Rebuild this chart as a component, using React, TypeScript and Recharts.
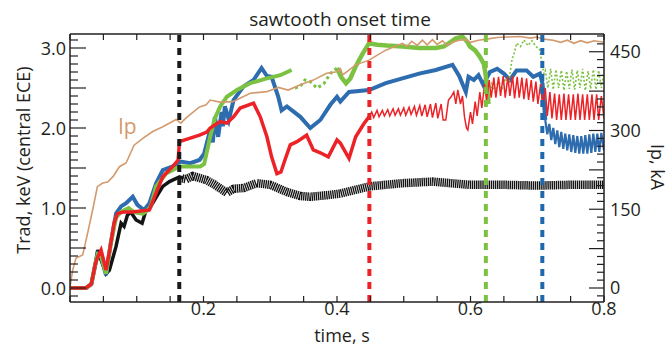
import React from 'react';
import { LineChart, Line, XAxis, YAxis, ReferenceLine } from 'recharts';

type P = [number, number];

// ---------- data (time s, value) ----------
const ipKA: P[] = [
  [0, 2], [0.004, 34], [0.009, 57], [0.019, 63], [0.0265, 105], [0.034, 149], [0.041, 193],
  [0.049, 200], [0.0565, 202], [0.065, 213], [0.074, 231], [0.084, 238], [0.096, 272],
  [0.109, 285], [0.124, 298], [0.139, 307], [0.159, 321], [0.166, 314], [0.174, 324],
  [0.194, 345], [0.204, 349], [0.21, 358], [0.225, 354], [0.244, 355], [0.27, 371],
  [0.295, 374], [0.312, 382], [0.327, 377], [0.345, 387], [0.3645, 396], [0.3845, 409],
  [0.4, 412], [0.405, 418], [0.4085, 406], [0.428, 425], [0.448, 434], [0.473, 453],
  [0.498, 466], [0.505, 460], [0.512, 470], [0.52, 462], [0.528, 472], [0.535, 463],
  [0.543, 473], [0.55, 464], [0.558, 471], [0.565, 462], [0.573, 468], [0.583, 472],
  [0.593, 473], [0.6, 468], [0.612, 472], [0.624, 474], [0.64, 477], [0.655, 478],
  [0.674, 479], [0.69, 476], [0.699, 478], [0.71, 474], [0.724, 472], [0.735, 468],
  [0.745, 472], [0.755, 466], [0.765, 471], [0.775, 467], [0.785, 471], [0.8, 468],
];

const blackEarly: P[] = [
  [0, 0], [0.024, 0], [0.032, 0.05], [0.038, 0.3], [0.0415, 0.475], [0.0465, 0.35],
  [0.054, 0.18], [0.059, 0.225], [0.069, 0.52], [0.0765, 0.81], [0.081, 0.77], [0.086, 0.91],
  [0.091, 0.95], [0.099, 0.85], [0.108, 0.81], [0.114, 0.975], [0.121, 1.02], [0.131, 1.16],
  [0.139, 1.27], [0.149, 1.33], [0.164, 1.39], [0.17, 1.37],
];
const blackLate: P[] = [
  [0.168, 1.37], [0.174, 1.36], [0.184, 1.4], [0.204, 1.35], [0.215, 1.3], [0.235, 1.19],
  [0.245, 1.24], [0.26, 1.25], [0.28, 1.31], [0.3, 1.29], [0.325, 1.2], [0.345, 1.15],
  [0.36, 1.14], [0.385, 1.16], [0.405, 1.18], [0.448, 1.27], [0.498, 1.31], [0.543, 1.33],
  [0.598, 1.29], [0.65, 1.29], [0.7, 1.28], [0.75, 1.29], [0.8, 1.29],
];

const blueMain: P[] = [
  [0, 0], [0.024, 0], [0.032, 0.05], [0.038, 0.3], [0.0415, 0.43], [0.0465, 0.4],
  [0.054, 0.16], [0.061, 0.56], [0.069, 0.93], [0.0765, 1.02], [0.084, 1.06], [0.094, 1.14],
  [0.101, 1.04], [0.111, 0.975], [0.119, 1.06], [0.129, 1.31], [0.139, 1.475], [0.154, 1.52],
  [0.166, 1.58], [0.18, 1.56], [0.194, 1.6], [0.201, 1.68], [0.21, 1.975], [0.214, 1.82],
  [0.217, 2.14], [0.222, 1.89], [0.227, 2.2], [0.229, 2.02], [0.232, 2.27], [0.238, 2.1],
  [0.245, 2.35], [0.26, 2.52], [0.275, 2.6], [0.287, 2.75], [0.295, 2.65], [0.302, 2.64],
  [0.312, 2.39], [0.317, 2.22], [0.325, 2.27], [0.345, 2.14], [0.36, 2.0], [0.375, 2.1],
  [0.39, 2.29], [0.4, 2.39], [0.405, 2.33], [0.418, 2.45], [0.448, 2.475], [0.473, 2.56],
  [0.498, 2.62], [0.523, 2.68], [0.548, 2.725], [0.573, 2.79], [0.583, 2.65], [0.593, 2.45],
  [0.597, 2.64], [0.605, 2.6], [0.612, 2.66], [0.619, 2.54], [0.629, 2.7], [0.64, 2.74],
  [0.65, 2.68], [0.659, 2.6], [0.669, 2.72], [0.684, 2.72], [0.694, 2.64], [0.704, 2.68],
  [0.708, 2.55], [0.712, 2.1],
];
const blueLate: P[] = [
  [0.712, 2.1], [0.715, 1.92], [0.718, 2.05], [0.721, 1.85], [0.724, 2.0], [0.727, 1.8],
  [0.73, 1.97], [0.733, 1.76], [0.736, 1.95], [0.739, 1.74], [0.742, 1.93], [0.745, 1.72],
  [0.748, 1.92], [0.751, 1.7], [0.754, 1.91], [0.757, 1.69], [0.76, 1.9], [0.763, 1.68],
  [0.766, 1.9], [0.769, 1.68], [0.772, 1.91], [0.775, 1.68], [0.778, 1.92], [0.781, 1.69],
  [0.784, 1.93], [0.787, 1.7], [0.79, 1.93], [0.793, 1.7], [0.796, 1.94], [0.8, 1.72],
];

const greenA: P[] = [
  [0, 0], [0.024, 0], [0.032, 0.05], [0.038, 0.3], [0.0415, 0.42], [0.0465, 0.4],
  [0.054, 0.18], [0.061, 0.55], [0.069, 0.88], [0.076, 0.95], [0.081, 0.97], [0.088, 1.0],
  [0.094, 0.96], [0.101, 0.94], [0.109, 0.93], [0.116, 0.97], [0.121, 1.02], [0.129, 1.27],
  [0.144, 1.43], [0.164, 1.52], [0.18, 1.52], [0.195, 1.52], [0.201, 1.55], [0.21, 1.89],
  [0.217, 2.12], [0.225, 2.27], [0.235, 2.39], [0.25, 2.475], [0.27, 2.56], [0.295, 2.62],
  [0.315, 2.66], [0.332, 2.725],
];
const greenB: P[] = [
  [0.337, 2.5], [0.345, 2.52], [0.352, 2.6], [0.36, 2.58], [0.37, 2.5], [0.38, 2.55],
  [0.39, 2.68], [0.4, 2.75],
];
const greenC: P[] = [
  [0.4, 2.75], [0.406, 2.64], [0.4135, 2.56], [0.42, 2.62], [0.428, 2.77], [0.4385, 2.93],
  [0.448, 3.06], [0.46, 3.04], [0.475, 3.03], [0.498, 3.02], [0.523, 3.0], [0.548, 3.0],
  [0.56, 3.02], [0.568, 3.06], [0.578, 3.12], [0.588, 3.14], [0.595, 3.08], [0.599, 3.02],
  [0.607, 2.97], [0.614, 2.89], [0.62, 2.8], [0.623, 2.65], [0.627, 2.3],
];
const greenD: P[] = [
  [0.627, 2.3], [0.632, 2.55], [0.637, 2.45], [0.642, 2.6], [0.647, 2.48], [0.652, 2.62],
  [0.657, 2.55], [0.662, 2.85], [0.666, 2.95], [0.669, 3.06], [0.675, 3.02], [0.68, 3.1],
  [0.686, 3.03], [0.692, 3.09], [0.698, 3.02], [0.704, 2.975], [0.707, 2.8], [0.71, 2.68],
  [0.712, 2.72], [0.716, 2.5], [0.72, 2.74], [0.724, 2.48], [0.728, 2.73], [0.732, 2.5],
  [0.736, 2.72], [0.74, 2.47], [0.744, 2.71], [0.748, 2.49], [0.752, 2.73], [0.756, 2.48],
  [0.76, 2.72], [0.764, 2.5], [0.768, 2.74], [0.772, 2.47], [0.776, 2.71], [0.78, 2.49],
  [0.784, 2.73], [0.788, 2.48], [0.792, 2.72], [0.796, 2.5], [0.8, 2.7],
];

const redA: P[] = [
  [0, 0], [0.024, 0], [0.032, 0.05], [0.038, 0.3], [0.0415, 0.39], [0.0465, 0.475],
  [0.054, 0.225], [0.06, 0.5], [0.066, 0.81], [0.071, 0.93], [0.08, 0.95], [0.094, 0.95],
  [0.119, 0.975], [0.129, 1.19], [0.139, 1.39], [0.154, 1.52], [0.162, 1.6], [0.164, 1.83],
  [0.179, 1.87], [0.194, 1.91], [0.205, 1.95], [0.21, 2.0], [0.225, 2.08], [0.235, 2.06],
  [0.245, 2.14], [0.255, 2.25], [0.275, 2.31], [0.285, 2.14], [0.295, 1.89], [0.302, 1.64],
  [0.31, 1.43], [0.316, 1.45], [0.322, 1.6], [0.33, 1.79], [0.34, 1.83], [0.3545, 1.91],
  [0.3645, 1.725], [0.375, 1.69], [0.387, 1.64], [0.4, 1.85], [0.405, 1.81], [0.418, 1.62],
  [0.428, 1.89], [0.44, 2.05], [0.448, 2.14],
];
const redB: P[] = [
  [0.448, 2.14], [0.452, 2.2], [0.455, 2.13], [0.46, 2.22], [0.463, 2.14], [0.468, 2.22],
  [0.471, 2.15], [0.476, 2.23], [0.479, 2.15], [0.484, 2.24], [0.487, 2.16], [0.492, 2.24],
  [0.495, 2.16], [0.5, 2.25], [0.503, 2.16], [0.508, 2.26], [0.511, 2.17], [0.516, 2.27],
  [0.519, 2.16], [0.524, 2.28], [0.527, 2.15], [0.532, 2.29], [0.535, 2.14], [0.54, 2.3],
  [0.543, 2.13], [0.548, 2.31], [0.551, 2.12], [0.556, 2.3], [0.559, 2.1], [0.563, 2.1],
  [0.567, 2.35], [0.571, 2.39], [0.575, 2.45], [0.578, 2.3], [0.581, 2.475], [0.585, 2.3],
  [0.588, 2.4], [0.591, 2.14], [0.594, 2.0], [0.596, 1.975], [0.6, 2.2], [0.603, 2.05],
  [0.607, 2.33], [0.61, 2.15], [0.614, 2.45], [0.617, 2.25], [0.621, 2.55], [0.624, 2.35],
  [0.628, 2.6], [0.631, 2.38], [0.635, 2.63], [0.638, 2.38], [0.642, 2.64], [0.645, 2.4],
  [0.649, 2.65], [0.652, 2.38], [0.656, 2.64], [0.659, 2.4], [0.663, 2.65], [0.666, 2.37],
  [0.67, 2.64], [0.673, 2.38], [0.677, 2.63], [0.68, 2.36], [0.684, 2.62], [0.687, 2.35],
  [0.691, 2.6], [0.694, 2.33], [0.698, 2.58], [0.701, 2.3], [0.705, 2.55], [0.708, 2.28],
  [0.712, 2.5], [0.715, 2.15], [0.719, 2.45], [0.722, 2.12], [0.726, 2.43], [0.729, 2.1],
  [0.733, 2.42], [0.736, 2.1], [0.74, 2.43], [0.743, 2.1], [0.747, 2.42], [0.75, 2.1],
  [0.754, 2.42], [0.757, 2.1], [0.761, 2.43], [0.764, 2.1], [0.768, 2.42], [0.771, 2.1],
  [0.775, 2.42], [0.778, 2.1], [0.782, 2.42], [0.785, 2.1], [0.789, 2.42], [0.792, 2.1],
  [0.796, 2.4], [0.8, 2.12],
];

// sawtooth onset times (s)
const onsetTimes = [0.1637, 0.4485, 0.623, 0.7076];
const onsetColors = ['#1a1a1a', '#ec2227', '#7cc242', '#1f68ad'];

// ticks
const xTicks = [0, 0.05, 0.1, 0.15, 0.2, 0.25, 0.3, 0.35, 0.4, 0.45, 0.5, 0.55, 0.6, 0.65, 0.7, 0.75, 0.8];
const xLabelled = [0.2, 0.4, 0.6, 0.8];
const leftTicks = [
  -0.1, 0, 0.1, 0.2, 0.3, 0.4, 0.5, 0.6, 0.7, 0.8, 0.9, 1.0, 1.1, 1.2, 1.3, 1.4, 1.5, 1.6,
  1.7, 1.8, 1.9, 2.0, 2.1, 2.2, 2.3, 2.4, 2.5, 2.6, 2.7, 2.8, 2.9, 3.0, 3.1,
];
const leftLabelled = [0, 1, 2, 3];
const rightTicks = [
  -15, 0, 15, 30, 45, 60, 75, 90, 105, 120, 135, 150, 165, 180, 195, 210, 225, 240, 255,
  270, 285, 300, 315, 330, 345, 360, 375, 390, 405, 420, 435, 450, 465, 480,
];
const rightLabelled = [0, 150, 300, 450];

// ---------- styling ----------
const FONT = '"Open Sans", "DejaVu Sans", sans-serif';
const INK = '#231f20';
const C_BLACK = '#141414';
const C_BLUE = '#2e6cb0';
const C_GREEN = '#7cc242';
const C_RED = '#ec2227';
const C_TAN = '#d39a6d';

const near = (a: number, b: number) => Math.abs(a - b) < 1e-6;
const pts = (a: P[]) => a.map(([t, v]) => ({ t, v }));

const BottomTick = (p: any) => {
  const { x, y, payload } = p;
  const v = payload.value as number;
  const lab = xLabelled.some((m) => near(m, v)) ? v.toFixed(1) : null;
  return (
    <g>
      <line x1={x} x2={x} y1={y} y2={y - 6} stroke={INK} strokeWidth={1.2} />
      {lab && (
        <text x={x} y={y + 13} textAnchor="middle" fontSize={18} fontFamily={FONT} fill={INK}>
          {lab}
        </text>
      )}
    </g>
  );
};

const TopTick = (p: any) => {
  const { x, y } = p;
  return <line x1={x} x2={x} y1={y} y2={y + 6} stroke={INK} strokeWidth={1.2} />;
};

const LeftTick = (p: any) => {
  const { x, y, payload } = p;
  const v = payload.value as number;
  const major = Math.abs(v * 2 - Math.round(v * 2)) < 1e-6;
  const lab = leftLabelled.some((m) => near(m, v)) ? v.toFixed(1) : null;
  return (
    <g>
      <line x1={x} x2={x + (major ? 16 : 8)} y1={y} y2={y} stroke={INK} strokeWidth={1.2} />
      {lab && (
        <text x={x - 4} y={y + 6.5} textAnchor="end" fontSize={18} fontFamily={FONT} fill={INK}>
          {lab}
        </text>
      )}
    </g>
  );
};

const RightTick = (p: any) => {
  const { x, y, payload } = p;
  const v = payload.value as number;
  const major = v % 75 === 0;
  const lab = rightLabelled.includes(v) ? String(v) : null;
  return (
    <g>
      <line x1={x} x2={x - (major ? 15 : 7)} y1={y} y2={y} stroke={INK} strokeWidth={1.2} />
      {lab && (
        <text x={x + 6} y={y + 6.5} textAnchor="start" fontSize={18} fontFamily={FONT} fill={INK}>
          {lab}
        </text>
      )}
    </g>
  );
};

const axisLine = { stroke: INK, strokeWidth: 1.5 };

export default function App() {
  const common = {
    xAxisId: 'b',
    dataKey: 'v',
    dot: false,
    activeDot: false,
    isAnimationActive: false,
    type: 'linear' as const,
  };
  return (
    <div style={{ position: 'absolute', left: 0, top: 0, width: 670, height: 349, background: '#fff' }}>
      <LineChart
        width={670}
        height={349}
        margin={{ top: 33, right: 65, bottom: 46, left: 69 }}
      >
        <XAxis
          xAxisId="b"
          dataKey="t"
          type="number"
          domain={[0, 0.8]}
          ticks={xTicks}
          interval={0}
          allowDataOverflow
          height={1}
          tickSize={0}
          tickMargin={0}
          tick={<BottomTick />}
          tickLine={false}
          axisLine={axisLine}
        />
        <XAxis
          xAxisId="t"
          orientation="top"
          dataKey="t"
          type="number"
          domain={[0, 0.8]}
          ticks={xTicks}
          interval={0}
          allowDataOverflow
          height={1}
          tickSize={0}
          tickMargin={0}
          tick={<TopTick />}
          tickLine={false}
          axisLine={axisLine}
        />
        <YAxis
          yAxisId="left"
          type="number"
          domain={[-0.175, 3.175]}
          ticks={leftTicks}
          interval={0}
          allowDataOverflow
          width={1}
          tickSize={0}
          tickMargin={0}
          tick={<LeftTick />}
          tickLine={false}
          axisLine={axisLine}
        />
        <YAxis
          yAxisId="right"
          orientation="right"
          type="number"
          domain={[-26.67, 483.8]}
          ticks={rightTicks}
          interval={0}
          allowDataOverflow
          width={1}
          tickSize={0}
          tickMargin={0}
          tick={<RightTick />}
          tickLine={false}
          axisLine={axisLine}
        />

        <Line {...common} yAxisId="left" data={pts(blackEarly)} stroke={C_BLACK} strokeWidth={3.5} />
        <Line {...common} yAxisId="left" data={pts(blackLate)} stroke={C_BLACK} strokeWidth={8.5} strokeDasharray="1.4 0.7" />

        <Line {...common} yAxisId="left" data={pts(blueMain)} stroke={C_BLUE} strokeWidth={4} />
        <Line {...common} yAxisId="left" data={pts(blueLate)} stroke={C_BLUE} strokeWidth={2.2} />

        <Line {...common} yAxisId="left" data={pts(greenA)} stroke={C_GREEN} strokeWidth={4} />
        <Line {...common} yAxisId="left" data={pts(greenB)} stroke={C_GREEN} strokeWidth={3} strokeDasharray="3 3" />
        <Line {...common} yAxisId="left" data={pts(greenC)} stroke={C_GREEN} strokeWidth={4.5} />
        <Line {...common} yAxisId="left" data={pts(greenD)} stroke={C_GREEN} strokeWidth={1.6} strokeDasharray="2 2" />

        <Line {...common} yAxisId="left" data={pts(redA)} stroke={C_RED} strokeWidth={3.5} />
        <Line {...common} yAxisId="left" data={pts(redB)} stroke={C_RED} strokeWidth={1.5} />

        <Line {...common} yAxisId="right" data={pts(ipKA)} stroke={C_TAN} strokeWidth={1.6} />

        {onsetTimes.map((t, i) => (
          <ReferenceLine
            key={i}
            xAxisId="b"
            yAxisId="left"
            x={t}
            stroke={onsetColors[i]}
            strokeWidth={4}
            strokeDasharray="7 6"
          />
        ))}
      </LineChart>

      <svg
        width={670}
        height={349}
        style={{ position: 'absolute', left: 0, top: 0, pointerEvents: 'none' }}
      >
        <text x={340} y={26} textAnchor="middle" fontSize={19} fontFamily={FONT} fill={INK}>
          sawtooth onset time
        </text>
        <text x={342} y={342} textAnchor="middle" fontSize={18} fontFamily={FONT} fill={INK}>
          time, s
        </text>
        <text
          transform="translate(30,160) rotate(-90)"
          textAnchor="middle"
          fontSize={18}
          fontFamily={FONT}
          fill={INK}
        >
          Trad, keV (central ECE)
        </text>
        <text
          transform="translate(651,167) rotate(90)"
          textAnchor="middle"
          fontSize={18}
          fontFamily={FONT}
          fill={INK}
        >
          Ip, kA
        </text>
        <text x={118} y={134} fontSize={21} fontFamily={FONT} fill={C_TAN}>
          Ip
        </text>
      </svg>
    </div>
  );
}
